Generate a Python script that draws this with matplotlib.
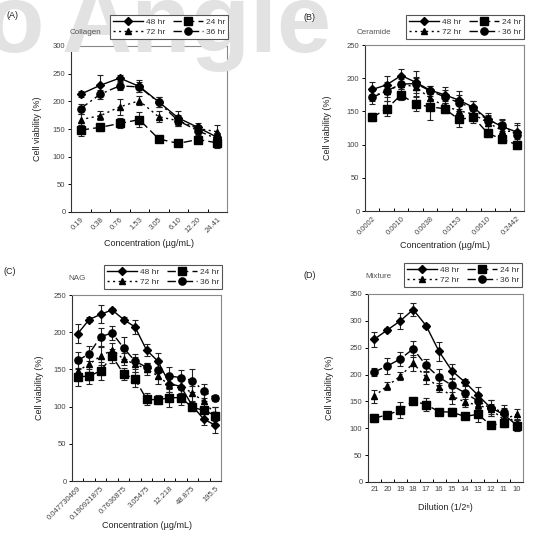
import matplotlib
matplotlib.use("Agg")
import matplotlib.pyplot as plt
from matplotlib.lines import Line2D

plt.rcParams['font.family'] = ['Liberation Sans', 'DejaVu Sans']

W, H = 550, 537

# (A) collagen
a_labels = ['0.19', '0.38', '0.76', '1.53', '3.05', '6.10', '12.20', '24.41']
a48 = [213, 229, 242, 227, 199, 170, 153, 135]
a48_err = [6, 18, 6, 11, 9, 13, 7, 8]
a24 = [148, 153, 160, 167, 132, 124, 131, 125]
a24_err = [10, 6, 9, 13, 3, 3, 6, 9]
a72 = [167, 174, 190, 201, 172, 165, 151, 145]
a72_err = [10, 8, 15, 8, 10, 10, 7, 12]
a36 = [187, 213, 228, 226, 198, 165, 147, 132]
a36_err = [9, 8, 7, 9, 9, 9, 8, 10]

# (B) ceramide
b_labels = ['0.0002', '', '0.0010', '', '0.0038', '', '0.0153', '', '0.0610', '', '0.2442']
b48 = [183, 190, 204, 194, 182, 175, 167, 156, 138, 127, 119]
b48_err = [12, 14, 10, 17, 6, 12, 14, 10, 10, 10, 13]
b24 = [141, 154, 175, 161, 157, 154, 138, 141, 117, 108, 100]
b24_err = [6, 11, 8, 10, 20, 6, 12, 9, 6, 6, 6]
b72 = [173, 180, 191, 187, 170, 158, 151, 146, 133, 121, 119]
b72_err = [8, 14, 12, 14, 10, 8, 12, 10, 10, 10, 10]
b36 = [171, 181, 191, 192, 181, 172, 163, 155, 136, 130, 114]
b36_err = [10, 10, 8, 10, 8, 10, 12, 10, 8, 9, 8]

# (C) NAG
c_labels = ['0.047730469', '', '0.190921875', '', '0.7636875', '', '3.05475', '',
            '12.218', '', '48.875', '', '195.5']
c48 = [198, 217, 224, 230, 217, 207, 176, 161, 131, 127, 101, 83, 75]
c48_err = [13, 3, 12, 2, 3, 10, 8, 11, 12, 10, 5, 8, 10]
c24 = [140, 141, 148, 168, 144, 137, 110, 109, 112, 112, 99, 95, 88]
c24_err = [12, 10, 12, 10, 8, 10, 8, 6, 12, 10, 5, 12, 12]
c72 = [148, 157, 168, 176, 164, 157, 151, 141, 129, 128, 118, 107, 90]
c72_err = [10, 10, 12, 10, 8, 10, 8, 10, 10, 10, 10, 10, 10]
c36 = [162, 171, 194, 199, 179, 161, 153, 149, 141, 139, 135, 121, 111]
c36_err = [12, 10, 12, 10, 15, 10, 6, 10, 12, 10, 15, 10, 4]

# (D) mixture
d_labels = ['21', '20', '19', '18', '17', '16', '15', '14', '13', '12', '11', '10']
d48 = [266, 283, 300, 321, 291, 243, 207, 186, 162, 138, 126, 106]
d48_err = [14, 4, 15, 12, 4, 17, 13, 5, 15, 15, 12, 10]
d24 = [119, 125, 134, 151, 144, 131, 130, 122, 126, 106, 109, 105]
d24_err = [8, 4, 15, 6, 12, 5, 8, 4, 15, 5, 6, 10]
d72 = [160, 179, 197, 221, 195, 176, 160, 149, 143, 136, 116, 126]
d72_err = [12, 8, 8, 15, 12, 8, 15, 10, 10, 10, 10, 10]
d36 = [205, 216, 229, 248, 217, 195, 180, 166, 151, 137, 131, 107]
d36_err = [7, 15, 13, 15, 12, 15, 12, 12, 15, 15, 12, 10]

styles = {
    '48 hr': dict(ls='-', marker='D', ms=3.6),
    '24 hr': dict(ls=(0, (6, 3)), marker='s', ms=5.2),
    '72 hr': dict(ls=(0, (1.5, 2.5)), marker='^', ms=5.0),
    '36 hr': dict(ls=(0, (6, 2.5, 1.5, 2.5)), marker='o', ms=5.2),
}


def fr(x, y):
    return x / W, 1 - y / H


fig = plt.figure(figsize=(5.5, 5.37), dpi=100)

# faint watermark at the top of the page
fig.text(*fr(62, 52), 'Angle', fontsize=70, weight='bold', color='#e2e2e2',
         ha='left', va='baseline', zorder=0)
fig.text(*fr(44, 52), 'o', fontsize=70, weight='bold', color='#e2e2e2',
         ha='right', va='baseline', zorder=0)


def panel(box, labels, data, ymax, rotate, xlabel, name, tag, leg, name_xy, tag_xy,
          ylab_x, xlab_y):
    left, top, right, bottom = box
    ax = fig.add_axes([left / W, 1 - bottom / H, (right - left) / W, (bottom - top) / H])
    ax.patch.set_alpha(0)
    n = len(labels)
    x = list(range(n))
    for nm in ['24 hr', '72 hr', '36 hr', '48 hr']:
        vals, errs = data[nm]
        st = styles[nm]
        ax.errorbar(x, vals, yerr=errs, color='black', ecolor='#222222', lw=1.0,
                    ls=st['ls'], marker=st['marker'], ms=st['ms'],
                    elinewidth=0.8, capsize=2.5, capthick=0.8)
    ax.set_xlim(-0.5, n - 0.5)
    ax.set_ylim(0, ymax)
    ax.set_yticks(range(0, ymax + 1, 50))
    ax.set_xticks(x)
    if rotate:
        ax.set_xticklabels(labels, rotation=45, ha='right', rotation_mode='anchor')
    else:
        ax.set_xticklabels(labels)
    ax.set_xticks([i + 0.5 for i in range(n - 1)], minor=True)
    ax.tick_params(axis='x', which='major', length=0, pad=3, labelsize=5.5,
                   labelcolor='#444444')
    ax.tick_params(axis='x', which='minor', direction='in', length=2.5, width=0.7)
    ax.tick_params(axis='y', direction='out', length=2.5, width=0.7, pad=1.5,
                   labelsize=5.5, labelcolor='#444444')
    for s in ['left', 'bottom']:
        ax.spines[s].set_color('#333333')
        ax.spines[s].set_linewidth(0.8)
    for s in ['top', 'right']:
        ax.spines[s].set_color('#888888')
        ax.spines[s].set_linewidth(0.8)

    fig.text(*fr(ylab_x, (top + bottom) / 2), 'Cell viability (%)', rotation=90,
             ha='center', va='center', fontsize=6.5, color='#222222')
    fig.text(*fr((left + right) / 2, xlab_y), xlabel, ha='center', va='center',
             fontsize=6.5, color='#222222')
    fig.text(*fr(*tag_xy), tag, ha='left', va='center', fontsize=6.5, color='#222222')
    fig.text(*fr(*name_xy), name, ha='right', va='center', fontsize=5.8, color='#555555')

    handles = []
    for nm in ['48 hr', '72 hr', '24 hr', '36 hr']:
        st = styles[nm]
        handles.append(Line2D([], [], color='black', lw=1.0, ls=st['ls'],
                              marker=st['marker'], ms=st['ms']))
    lg = fig.legend(handles, ['48 hr', '72 hr', '24 hr', '36 hr'], loc='upper right',
                    bbox_to_anchor=fr(*leg), ncol=2, fontsize=6, frameon=True,
                    fancybox=False, edgecolor='#555555', framealpha=1,
                    handlelength=3.6, handletextpad=0.3, columnspacing=1.0,
                    labelspacing=0.25, borderpad=0.35, borderaxespad=0)
    lg.get_frame().set_linewidth(0.8)
    for t in lg.get_texts():
        t.set_color('#333333')
    return ax


panel((71, 46, 227, 212), a_labels,
      {'48 hr': (a48, a48_err), '24 hr': (a24, a24_err),
       '72 hr': (a72, a72_err), '36 hr': (a36, a36_err)},
      300, True, 'Concentration (\u00b5g/mL)', 'Collagen', '(A)',
      (228, 15), (101, 32), (6, 16), 37, 243)

panel((365, 45, 524, 211), b_labels,
      {'48 hr': (b48, b48_err), '24 hr': (b24, b24_err),
       '72 hr': (b72, b72_err), '36 hr': (b36, b36_err)},
      250, True, 'Concentration (\u00b5g/mL)', 'Ceramide', '(B)',
      (524, 15), (391, 32), (303, 17), 328, 245)

panel((72, 295, 221, 481), c_labels,
      {'48 hr': (c48, c48_err), '24 hr': (c24, c24_err),
       '72 hr': (c72, c72_err), '36 hr': (c36, c36_err)},
      250, True, 'Concentration (\u00b5g/mL)', 'NAG', '(C)',
      (222, 265), (86, 279), (3, 272), 40, 525)

panel((368, 294, 523, 482), d_labels,
      {'48 hr': (d48, d48_err), '24 hr': (d24, d24_err),
       '72 hr': (d72, d72_err), '36 hr': (d36, d36_err)},
      350, False, 'Dilution (1/2\u207f)', 'Mixture', '(D)',
      (522, 263), (392, 277), (304, 275), 330, 507)

fig.savefig('out.png', dpi=100)
